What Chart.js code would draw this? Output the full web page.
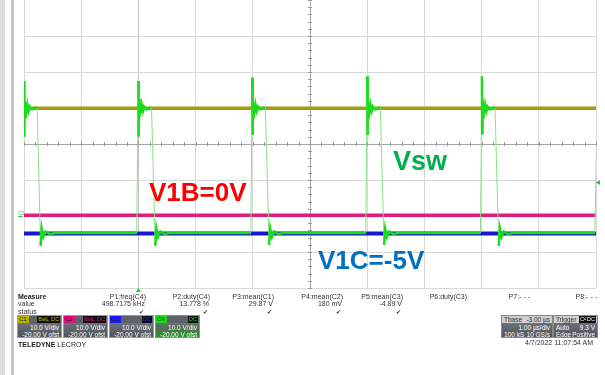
<!DOCTYPE html>
<html>
<head>
<meta charset="utf-8">
<script src="https://cdn.jsdelivr.net/npm/chart.js@4.4.0/dist/chart.umd.min.js"></script>
<style>
  body { margin: 0; background: #fff; }
  #wrap { position: relative; width: 605px; height: 375px; overflow: hidden; font-family: "Liberation Sans", Arial, sans-serif; }
  #scope { position: absolute; left: 0; top: 0; }
  .bar { position: absolute; top: 0; height: 375px; }
  .lbl { position: absolute; font-weight: bold; line-height: 1; white-space: nowrap; }
  .t { position: absolute; font-size: 7px; line-height: 8px; white-space: nowrap; color: #333; }
  .box { position: absolute; top: 315px; height: 23px; overflow: hidden;
         background: linear-gradient(#7b7f88, #50545c); border: 1px solid #9a9a9a; box-sizing: border-box; }
  .box .strip { position: absolute; left: 0; right: 0; top: 0; height: 7px; background: #5e6168; }
  .box .sw { position: absolute; left: 0; top: 0; height: 7px; width: 10px; font-size: 6px; line-height: 7px; padding-left: 1px; color: #222; }
  .box .tag { position: absolute; top: 0; height: 7px; font-size: 5.5px; line-height: 7px; background: #111; padding: 0 1px; }
  .box .ln { position: absolute; right: 2px; font-size: 6.5px; line-height: 7px; color: #fff; white-space: nowrap; }
  .box .lt { position: absolute; left: 2px; font-size: 6.5px; line-height: 7px; color: #fff; white-space: nowrap; }
  .box .hd { position: absolute; left: 0; right: 0; top: 0; height: 7px; background: #cfcfcf; }
</style>
</head>
<body>
<div id="wrap">
  <div class="bar" style="left:0;width:5px;background:#dcdcdc"></div>
  <div class="bar" style="left:11px;width:3px;background:#c6c6c6"></div>
  <canvas id="scope" width="605" height="375"></canvas>
  <div id="panel"></div>
</div>
<script>
// time in µs (1 µs/div, trigger at 0), volts (10 V/div, -20 V offset)
const tMin = -2, tMax = 8;
const vMin = -20, vMax = 60;

// C1 - input, yellow
const c1Time = [-2, 8];
const c1Volt = [29.9, 29.9];
// C2 - V1B, magenta
const c2Time = [-2, 8];
const c2Volt = [0.18, 0.18];
// C3 - V1C, blue
const c3Time = [-2, 8];
const c3Volt = [-4.89, -4.89];
// C4 - Vsw, green
const c4Time = [
  -2.0, -1.995, -1.988, -1.98, -1.97, -1.955, -1.94, -1.92, -1.9, -1.86, -1.8, -1.77, -1.71, -1.69, -1.66, -1.62, -1.55, -1.45,
  -0.03, 0.0, 0.005, 0.012, 0.02, 0.03, 0.045, 0.06, 0.08, 0.1, 0.14, 0.2, 0.23, 0.295, 0.315, 0.345, 0.385, 0.45, 0.55,
  1.965, 1.99, 1.995, 2.002, 2.01, 2.02, 2.035, 2.05, 2.07, 2.09, 2.13, 2.19, 2.22, 2.285, 2.305, 2.335, 2.375, 2.44, 2.54,
  3.975, 4.0, 4.005, 4.012, 4.02, 4.03, 4.045, 4.06, 4.08, 4.1, 4.14, 4.2, 4.23, 4.295, 4.315, 4.345, 4.385, 4.45, 4.55,
  5.98, 6.005, 6.01, 6.017, 6.025, 6.035, 6.05, 6.065, 6.085, 6.105, 6.145, 6.205, 6.235, 6.3, 6.32, 6.35, 6.39, 6.455, 6.555,
  7.98, 8.03
];
const c4Volt = [
  37.5, 22, 32.5, 27.5, 31.5, 28.5, 30.8, 29.2, 30.4, 29.6, 30.1, 29.9, -8.3, -3.5, -5.8, -4.3, -5.0, -4.7,
  -4.7, 37.5, 22, 32.5, 27.5, 31.5, 28.5, 30.8, 29.2, 30.4, 29.6, 30.1, 29.9, -8.3, -3.5, -5.8, -4.3, -5.0, -4.7,
  -4.7, 38.5, 22.5, 32.5, 27.5, 31.5, 28.5, 30.8, 29.2, 30.4, 29.6, 30.1, 29.9, -8.0, -3.5, -5.8, -4.3, -5.0, -4.7,
  -4.7, 38.8, 22.5, 32.5, 27.5, 31.5, 28.5, 30.8, 29.2, 30.4, 29.6, 30.1, 29.9, -8.0, -3.5, -5.8, -4.3, -5.0, -4.7,
  -4.7, 38.8, 23, 32.5, 27.5, 31.5, 28.5, 30.8, 29.2, 30.4, 29.6, 30.1, 29.9, -8.3, -3.5, -5.8, -4.3, -5.0, -4.7,
  -4.7, 37.5
];

const measNames = ['P1:freq(C4)', 'P2:duty(C4)', 'P3:mean(C1)', 'P4:mean(C2)', 'P5:mean(C3)', 'P6:duty(C3)', 'P7:- - -', 'P8:- - -'];
const measValues = ['498.7175 kHz', '13.778 %', '29.87 V', '180 mV', '-4.89 V', '', '', ''];
const trigLevel = 9.3;

function pts(ts, vs) {
  return ts.map((t, i) => ({ x: t, y: vs[i] }));
}

const steep = (ctx) => Math.abs(ctx.p1.parsed.y - ctx.p0.parsed.y) > 30;

// center graticule ticks + trigger markers
const scopeMarks = {
  id: 'scopeMarks',
  beforeDatasetsDraw(chart) {
    const { ctx, scales: { x, y } } = chart;
    const cx = x.getPixelForValue(3), cy = y.getPixelForValue(20);
    ctx.save();
    ctx.strokeStyle = '#9a9a9a';
    ctx.lineWidth = 1;
    ctx.beginPath();
    for (let t = tMin; t <= tMax + 0.001; t += 0.2) {
      const px = Math.round(x.getPixelForValue(t)) + 0.5;
      ctx.moveTo(px, cy - 2); ctx.lineTo(px, cy + 2);
    }
    for (let v = vMin; v <= vMax + 0.001; v += 2) {
      const py = Math.round(y.getPixelForValue(v)) + 0.5;
      ctx.moveTo(cx - 2, py); ctx.lineTo(cx + 2, py);
    }
    ctx.stroke();
    ctx.restore();
  },
  afterDraw(chart) {
    const { ctx, scales: { x, y }, chartArea } = chart;
    ctx.save();
    ctx.fillStyle = '#22cc22';
    // trigger time
    const tx = x.getPixelForValue(0);
    ctx.beginPath();
    ctx.moveTo(tx, chartArea.bottom); ctx.lineTo(tx - 2.5, chartArea.bottom + 4); ctx.lineTo(tx + 2.5, chartArea.bottom + 4);
    ctx.fill();
    // trigger level
    const ty = y.getPixelForValue(trigLevel);
    ctx.beginPath();
    ctx.moveTo(chartArea.right, ty); ctx.lineTo(chartArea.right + 4, ty - 2.5); ctx.lineTo(chartArea.right + 4, ty + 2.5);
    ctx.fill();
    // C2 offset marker
    const oy = y.getPixelForValue(0);
    ctx.fillStyle = '#55bb55';
    ctx.font = '5px "Liberation Sans"';
    ctx.fillText('C2', chartArea.left - 6, oy - 1);
    ctx.fillRect(chartArea.left - 6, oy, 5, 1);
    ctx.restore();
  }
};

new Chart(document.getElementById('scope'), {
  type: 'line',
  data: {
    datasets: [
      {
        label: 'C4', data: pts(c4Time, c4Volt), borderColor: '#1bdc1b', borderWidth: 2.5,
        segment: {
          borderColor: ctx => steep(ctx) ? '#86e386' : undefined,
          borderWidth: ctx => steep(ctx) ? 1 : undefined
        }
      },
      { label: 'C1', data: pts(c1Time, c1Volt), borderColor: '#a39b10', borderWidth: 3.5 },
      { label: 'C2', data: pts(c2Time, c2Volt), borderColor: '#e11a80', borderWidth: 3.5 },
      { label: 'C3', data: pts(c3Time, c3Volt), borderColor: '#1616d4', borderWidth: 4 }
    ]
  },
  options: {
    responsive: false,
    animation: false,
    parsing: true,
    layout: { padding: { left: 24, right: 9, top: 0, bottom: 87 } },
    elements: { point: { radius: 0 }, line: { tension: 0 } },
    plugins: { legend: { display: false }, tooltip: { enabled: false } },
    scales: {
      x: {
        type: 'linear', min: tMin, max: tMax,
        ticks: { display: false, stepSize: 1 },
        border: { display: false },
        grid: {
          drawTicks: false,
          color: c => c.tick.value === 3 ? '#a6a6a6' : (c.tick.value === 0 ? '#c4c4c4' : '#d9d9d9')
        }
      },
      y: {
        type: 'linear', min: vMin, max: vMax,
        ticks: { display: false, stepSize: 10 },
        border: { display: false },
        grid: {
          drawTicks: false,
          color: c => c.tick.value === 20 ? '#a6a6a6' : (c.tick.value === vMax ? 'rgba(0,0,0,0)' : '#d9d9d9')
        }
      }
    }
  },
  plugins: [scopeMarks]
});

// annotations and scope readout panel
const panel = document.getElementById('panel');
function add(html, style, cls) {
  const d = document.createElement('div');
  d.className = cls || 't';
  d.style.cssText = style;
  d.innerHTML = html;
  panel.appendChild(d);
  return d;
}

add('V1B=0V', 'left:149px;top:179px;font-size:26px;color:#ff0000', 'lbl');
add('Vsw', 'left:393px;top:148px;font-size:27px;color:#00b050', 'lbl');
add('V1C=-5V', 'left:318px;top:247px;font-size:26px;color:#0070c0', 'lbl');

add('Measure', 'left:18px;top:293px;font-weight:bold;color:#222');
add('value', 'left:18px;top:300px');
add('status', 'left:18px;top:308px');
const measRight = [146, 210, 274, 343, 403, 467, 530, 597];
measNames.forEach((n, i) => {
  add(n, 'right:' + (605 - measRight[i]) + 'px;top:293px');
  if (measValues[i]) {
    add(measValues[i], 'right:' + (605 - measRight[i] + 1) + 'px;top:300px');
    add('&#10004;', 'right:' + (605 - measRight[i] + 2) + 'px;top:308px;font-size:6px');
  }
});

const chans = [
  { name: 'C1', col: '#b8b000', tags: ['BwL', 'DC'], left: 17 },
  { name: 'C2', col: '#e0107a', tags: ['BwL', 'DC'], left: 63 },
  { name: 'C3', col: '#1a1aff', tags: ['DC'], left: 109 },
  { name: 'C4', col: '#10e010', tags: ['DC'], left: 155 }
];
chans.forEach(c => {
  const b = add('', 'left:' + c.left + 'px;width:45px', 'box');
  if (c.name === 'C4') {
    b.style.background = 'linear-gradient(#7b7f88, #5a6a5c 55%, #1f9a1f)';
    b.style.borderColor = '#22dd22';
  }
  let h = '<div class="strip"></div><div class="sw" style="background:' + c.col + '">' + c.name + '</div>';
  let r = 1;
  c.tags.slice().reverse().forEach(tg => {
    h += '<div class="tag" style="right:' + r + 'px;color:' + c.col + '">' + tg + '</div>';
    r += tg.length * 4 + 2;
  });
  h += '<div class="ln" style="top:8px">10.0 V/div</div>';
  h += '<div class="ln" style="top:15px">-20.00 V ofst</div>';
  b.innerHTML = h;
});
add('<b>TELEDYNE</b> LECROY', 'left:18px;top:341px;color:#222');

const tb = add('', 'left:501px;width:52px;border-color:#888', 'box');
tb.innerHTML = '<div class="hd"></div>' +
  '<div class="lt" style="top:0;color:#333">Tbase</div><div class="ln" style="top:0;color:#333">-3.00 µs</div>' +
  '<div class="ln" style="top:8px">1.00 µs/div</div>' +
  '<div class="lt" style="top:15px">100 kS</div><div class="ln" style="top:15px">10 GS/s</div>';
const tr = add('', 'left:553px;width:45px;border-color:#888', 'box');
tr.innerHTML = '<div class="hd"></div>' +
  '<div class="lt" style="top:0;color:#333">Trigger</div>' +
  '<div class="tag" style="right:9px;color:#fff">C4</div><div class="tag" style="right:1px;color:#fff">DC</div>' +
  '<div class="lt" style="top:8px">Auto</div><div class="ln" style="top:8px">9.3 V</div>' +
  '<div class="lt" style="top:15px">Edge</div><div class="ln" style="top:15px">Positive</div>';
add('4/7/2022 11:07:54 AM', 'right:12px;top:339px');
</script>
</body>
</html>
